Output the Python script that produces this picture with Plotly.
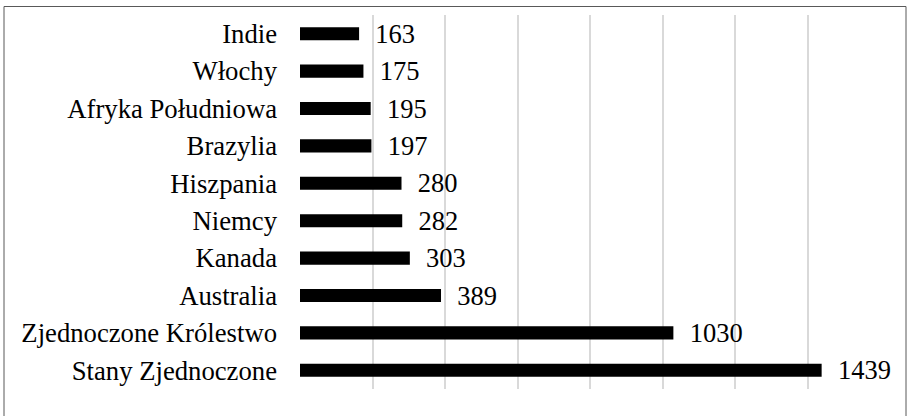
import plotly.graph_objects as go

countries = ["Indie", "Włochy", "Afryka Południowa", "Brazylia", "Hiszpania",
             "Niemcy", "Kanada", "Australia", "Zjednoczone Królestwo", "Stany Zjednoczone"]
values = [163, 175, 195, 197, 280, 282, 303, 389, 1030, 1439]
x_ticks = [0, 200, 400, 600, 800, 1000, 1200, 1400, 1600]

FONT = "Liberation Serif, Times New Roman, serif"
W, H = 909, 416
ML, MR, MT, MB = 300, 29, 15, 27
PW, PH = W - ML - MR, H - MT - MB

fig = go.Figure()
fig.add_trace(go.Bar(
    x=values, y=countries, orientation="h",
    marker=dict(color="#000000", line=dict(width=0)),
    text=values,
    texttemplate="\u00a0\u00a0%{x}",
    textposition="outside",
    constraintext="none",
    cliponaxis=False,
    textfont=dict(family=FONT, size=26.5, color="#000000"),
    hoverinfo="skip",
))

fig.update_layout(
    width=W, height=H,
    margin=dict(l=ML, r=MR, t=MT, b=MB, pad=0, autoexpand=False),
    paper_bgcolor="white", plot_bgcolor="white",
    bargap=0.65,
    showlegend=False,
    font=dict(family=FONT, size=26.5, color="#000000"),
    xaxis=dict(range=[0, 1600], tickvals=x_ticks, showticklabels=False,
               showgrid=True, gridcolor="#d9d9d9", gridwidth=1.5,
               zeroline=False, showline=False, fixedrange=True, automargin=False),
    yaxis=dict(autorange="reversed", showgrid=False, zeroline=False,
               showline=False, ticks="", ticklabelstandoff=22, automargin=False,
               tickfont=dict(family=FONT, size=26.7, color="#000000")),
    shapes=[dict(type="rect", xref="paper", yref="paper",
                 x0=(4 - ML) / PW, x1=(906 - ML) / PW,
                 y0=(MT + PH - 425) / PH, y1=(MT + PH - 6.5) / PH,
                 line=dict(color="#595959", width=1), fillcolor="rgba(0,0,0,0)",
                 layer="below")],
)

fig.write_html("out.html", config={"displayModeBar": False},
               post_script="document.body.style.margin='0px';")
